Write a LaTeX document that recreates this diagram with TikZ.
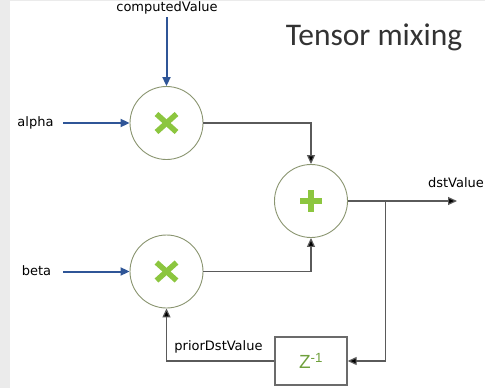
\documentclass[tikz,border=0pt]{standalone}
\usepackage{fontspec}
\setmainfont{DejaVu Sans}
\newfontfamily\titlefont{Carlito}
\newfontfamily\delayfont{Liberation Sans}
\usetikzlibrary{arrows.meta}

\definecolor{flowblue}{HTML}{2F5597}
\definecolor{opgreen}{HTML}{8CC63F}
\definecolor{ringolive}{HTML}{8A9570}
\definecolor{linkgray}{HTML}{5A5A5A}
\definecolor{zgreen}{HTML}{6FA03C}
\definecolor{sidegray}{HTML}{EBEBEB}

\tikzset{
  opcircle/.style={circle, draw=ringolive, line width=0.9pt, minimum size=73pt, inner sep=0pt},
  delaybox/.style={rectangle, draw=linkgray!90, line width=1.4pt, minimum width=72pt, minimum height=48pt, inner sep=0pt},
  inarrow/.style={draw=flowblue, line width=2pt, -{Triangle[length=9pt,width=8pt]}},
  link/.style={draw=linkgray, line width=1.2pt, -{Triangle[length=9pt,width=8pt,fill=black]}},
  opmark/.style={draw=opgreen, line width=5.5pt},
  lbl/.style={font=\fontsize{13}{15}\selectfont, text=black, inner sep=0pt},
}

\begin{document}
\begin{tikzpicture}[x=1pt, y=-1pt]
  \useasboundingbox (0,0) rectangle (485,388);
  % page background with the grey margin on the left
  \fill[white] (0,0) rectangle (485,388);
  \fill[sidegray] (0,0) rectangle (10,388);
  \fill[sidegray] (10,0) rectangle (485,1);

  % title
  \node[font=\titlefont\fontsize{31.5}{36}\selectfont, text=black!80, inner sep=0pt] (title) at (374,37) {Tensor mixing};

  % operators
  \node[opcircle] (m1) at (166.5,123) {};
  \node[opcircle] (m2) at (166.5,271.5) {};
  \node[opcircle] (add) at (311,201) {};
  \node[delaybox] (delay) at (311,361) {};
  \node[font=\delayfont\fontsize{19}{22}\selectfont, text=zgreen, inner sep=0pt] (zinv) at (delay.center) {Z\textsuperscript{-1}};

  % operator marks: two crosses and a plus
  \foreach \n in {m1,m2}{
    \draw[opmark] ([shift={(-10,-9)}]\n.center) -- ([shift={(10,9)}]\n.center);
    \draw[opmark] ([shift={(-10,9)}]\n.center) -- ([shift={(10,-9)}]\n.center);
  }
  \draw[opmark] ([shift={(-11,0)}]add.center) -- ([shift={(11,0)}]add.center);
  \draw[opmark] ([shift={(0,-11)}]add.center) -- ([shift={(0,11)}]add.center);

  % labels
  \node[lbl] (cvlbl) at (167,8) {computedValue};
  \node[lbl] (alphalbl) at (35.5,123) {alpha};
  \node[lbl] (betalbl) at (36.5,271) {beta};
  \node[lbl] (dstlbl) at (456,183) {dstValue};
  \node[lbl] (priorlbl) at (218.5,347) {priorDstValue};

  % connector end points
  \coordinate (cvstart) at (166.5,17);
  \coordinate (alphastart) at (63,123);
  \coordinate (betastart) at (63,271.5);
  \coordinate (dstend) at (457,201);
  \coordinate (branch) at (385.7,201);

  % inputs
  \draw[inarrow] (cvstart) -- (m1);
  \draw[inarrow] (alphastart) -- (m1);
  \draw[inarrow] (betastart) -- (m2);

  % data flow
  \draw[link] (m1) -| (add);
  \draw[link] (m2) -| (add);
  \draw[link] (add) -- (dstend);
  \draw[link] (branch) |- (delay);
  \draw[link] (delay) -| (m2);
\end{tikzpicture}
\end{document}
